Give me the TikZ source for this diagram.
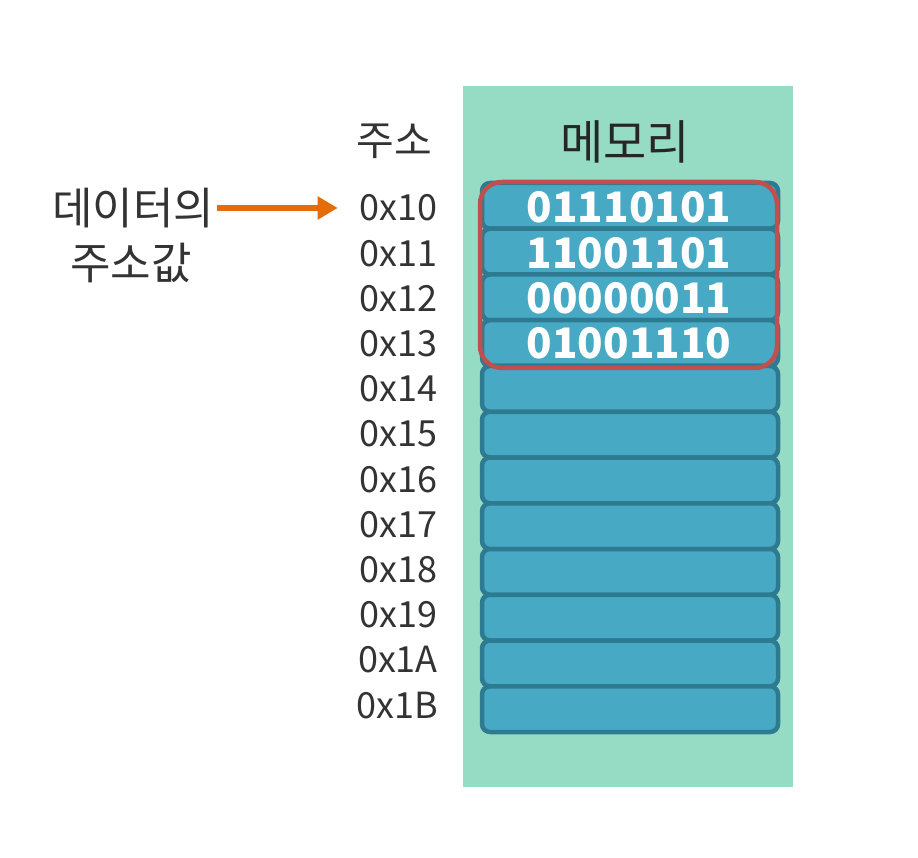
\documentclass[tikz,border=0pt]{standalone}
\usepackage{fontspec}
\setmainfont{Noto Sans CJK KR}
\usetikzlibrary{arrows.meta}
\definecolor{panel}{HTML}{96DCC4}
\definecolor{cellfill}{HTML}{48A9C5}
\definecolor{celledge}{HTML}{2E7A90}
\definecolor{pick}{HTML}{C0504D}
\definecolor{arrowc}{HTML}{E46C0A}
\definecolor{txt}{HTML}{333333}
\tikzset{>={Triangle[length=20pt,width=22pt]}}
\tikzset{
    cell/.style={fill=cellfill,draw=celledge,line width=4.5pt,rounded corners=8pt},
    addr/.style={font=\fontsize{36}{38}\selectfont,text=txt,anchor=east,inner sep=0pt},
    bits/.style={font=\fontsize{42}{44}\selectfont\bfseries,text=white,inner sep=0pt},
    label/.style={font=\fontsize{44}{46}\selectfont,text=txt,inner sep=0pt}
}
\begin{document}
\begin{tikzpicture}[x=1pt,y=-1pt]
    \useasboundingbox (0,0) rectangle (918,858);
    \fill[panel] (463,86) rectangle (793,787);
    \node[label,font=\fontsize{47}{50}\selectfont,text=black!85] (mem) at (625,142) {메모리};
    \node[label,font=\fontsize{41}{44}\selectfont] (juso) at (394,141) {주소};
    % memory cells and their addresses
    \foreach \a [count=\i from 0] in {10,11,12,13,14,15,16,17,18,19,1A,1B} {
        \draw[cell] (482,{183+45.75*\i}) rectangle ++(296,45.75);
        \node[addr] (a\a) at (438,{208+45.2*\i}) {0x\a};
    }
    \node[bits] (b0) at (629,207) {01110101};
    \node[bits] (b1) at (629,253) {11001101};
    \node[bits] (b2) at (629,298) {00000011};
    \node[bits] (b3) at (629,343) {01001110};
    \draw[pick,line width=4.5pt,rounded corners=22pt] (480,182) rectangle (777,368);
    \node[label] (data) at (133,208) {데이터의};
    \node[label] (val) at (131,263) {주소값};
    \draw[->,arrowc,line width=6pt,shorten >=22pt,shorten <=3pt] (data.east) -- (a10.west);
\end{tikzpicture}
\end{document}
